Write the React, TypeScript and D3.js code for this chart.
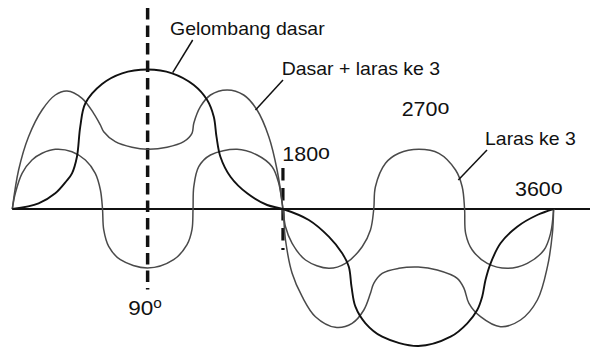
import React from "react";
import * as d3 from "d3";

// [degree, value] — value in units of px above the axis (fundamental amplitude ≈ 139)
const fundamental: [number, number][] = [
  [0, 0], [17.5, 5.7], [28.6, 15.7], [36, 28], [39.7, 35.7], [43, 52.3], [45.2, 82.3], [48.6, 105.7],
  [59.7, 125], [73, 135.7], [90, 139.5], [106.3, 135.7], [120.7, 124], [129.6, 109], [134, 92.3],
  [135.8, 72.3], [138.4, 52.3], [145.1, 32.3], [156.2, 15.7], [169.5, 4], [180, 0],
  [197.2, -11], [210.5, -27.7], [219.4, -44.3], [223.8, -57.7], [225.6, -77.7], [228.2, -97.7],
  [234.9, -114.3], [246, -127.7], [270, -137], [291.5, -127.7], [302.6, -114.3], [309.2, -101],
  [312.5, -87.7], [314.7, -71], [318.1, -54.3], [324.7, -34.3], [335.8, -17.7], [349.1, -6], [360, 0],
];

const harmonic3: [number, number][] = [
  [0, 0], [2, 15.7], [6.5, 35.7], [13.1, 49], [19.8, 55.7], [28.6, 59.7], [39.7, 57.3], [48.6, 49],
  [55.2, 35.7], [58.6, 19], [60, 0], [60.8, -20.7], [64.1, -37.4], [71.9, -50.7], [90, -59],
  [107.3, -50.7], [116.2, -35.7], [119.5, -20.7], [120.2, 0], [120.7, 22.3], [124, 42.3], [131.8, 54],
  [149.5, 59.7], [162.8, 54], [172.8, 42.3], [177.2, 25.7], [180, 0], [181.7, -17.7], [186.1, -34.3],
  [195, -51], [210.5, -59.3], [221.6, -54.3], [232.7, -37.7], [238.2, -21], [240.4, 0], [241.5, 22.3],
  [248.2, 45.7], [257.1, 55.7], [270.4, 59.7], [283.7, 55.7], [294.8, 39], [299.2, 22.3], [300.8, 0],
  [301.5, -24.3], [305.9, -41], [315.9, -54.3], [329.2, -59.3], [342.5, -54.3], [353.6, -41],
  [358, -24.3], [360, 0],
];

const sumWave: [number, number][] = [
  [0, 0], [4.2, 39], [10.8, 72.3], [19.8, 99], [28.6, 114], [36.4, 118], [46.4, 110.7], [54.1, 95.7],
  [58.6, 84], [60.8, 77.3], [68.5, 67.3], [79.6, 61.7], [90, 59.7], [102.9, 61.7], [114, 67.3],
  [119.5, 75.7], [120.7, 85.7], [125.1, 102.3], [131.8, 114], [142.9, 119], [153.9, 114], [162.8, 99],
  [170.6, 72.3], [176.1, 39], [180, 0], [181.7, -31], [186.1, -64.3], [192.8, -87.7], [201.6, -107.7],
  [214.9, -118.3], [226, -114.3], [233.8, -101], [238.2, -84.3], [240.4, -74.3], [246, -64.3],
  [257.1, -59.3], [270, -58], [282.6, -61], [295.9, -69.3], [300.4, -79.3], [303.7, -94.3],
  [311.4, -107.7], [324.7, -117.7], [338, -111], [349.2, -91], [355.9, -57.7], [359.2, -24.3], [360, 0],
];

const degreeLabels = ["90", "180", "270", "360"];
const seriesLabels = ["Gelombang dasar", "Dasar + laras ke 3", "Laras ke 3"];

const W = 590;
const H = 347;
const FONT = "'Liberation Sans', Arial, sans-serif";

export default function App() {
  const x = d3.scaleLinear().domain([0, 360]).range([12.3, 553.6]);
  const y = d3.scaleLinear().domain([-140, 140]).range([349, 69]);
  const line = d3
    .line<[number, number]>()
    .x((d) => x(d[0]))
    .y((d) => y(d[1]))
    .curve(d3.curveCatmullRom.alpha(0.5));

  const label = (txt: string, px: number, py: number, size: number) => (
    <g transform={`translate(${px},${py}) scale(1.1,1)`}>
      <text x={0} y={0} fontSize={size} fontFamily={FONT} fill="#111">
        {txt}
      </text>
    </g>
  );

  const deg = (txt: string, px: number, py: number, size: number, oSize: number, oDy: number) => (
    <g transform={`translate(${px},${py}) scale(1.1,1)`}>
      <text x={0} y={0} fontSize={size} fontFamily={FONT} fill="#111">
        {txt}
        <tspan fontSize={oSize} dy={oDy}>o</tspan>
      </text>
    </g>
  );

  return (
    <svg
      width={W}
      height={H}
      style={{ position: "absolute", left: 0, top: 0, background: "#fff" }}
    >
      <rect x={0} y={0} width={W} height={H} fill="#fff" />
      {/* axis */}
      <line x1={x(0)} x2={W} y1={y(0)} y2={y(0)} stroke="#111" strokeWidth={1.8} />
      {/* dashed markers */}
      <line x1={x(90)} x2={x(90)} y1={8} y2={289.5} stroke="#111" strokeWidth={3.5} strokeDasharray="11.5,6" />
      <line x1={x(180)} x2={x(180)} y1={168} y2={250} stroke="#111" strokeWidth={3.2} strokeDasharray="12.5,7.5" />
      {/* curves */}
      <path d={line(harmonic3) || ""} fill="none" stroke="#4a4a4a" strokeWidth={1.5} />
      <path d={line(sumWave) || ""} fill="none" stroke="#4a4a4a" strokeWidth={1.5} />
      <path d={line(fundamental) || ""} fill="none" stroke="#111" strokeWidth={1.9} />
      {/* leader lines */}
      <line x1={192.7} y1={40} x2={172.7} y2={72.7} stroke="#111" strokeWidth={1.5} />
      <line x1={283} y1={80} x2={255.5} y2={110} stroke="#111" strokeWidth={1.5} />
      <line x1={487} y1={150} x2={458.3} y2={180} stroke="#111" strokeWidth={1.5} />
      {/* labels */}
      {label(seriesLabels[0], 170, 35, 17.7)}
      {label(seriesLabels[1], 281.7, 75, 17.7)}
      {label(seriesLabels[2], 485, 145, 17.7)}
      {deg(degreeLabels[0], 128.3, 314.5, 20.5, 14, -7)}
      {deg(degreeLabels[1], 282.3, 160.7, 19.5, 19.5, -2)}
      {deg(degreeLabels[2], 401.7, 116, 19.5, 19.5, -2)}
      {deg(degreeLabels[3], 515, 195.7, 19.5, 19.5, -2)}
    </svg>
  );
}
